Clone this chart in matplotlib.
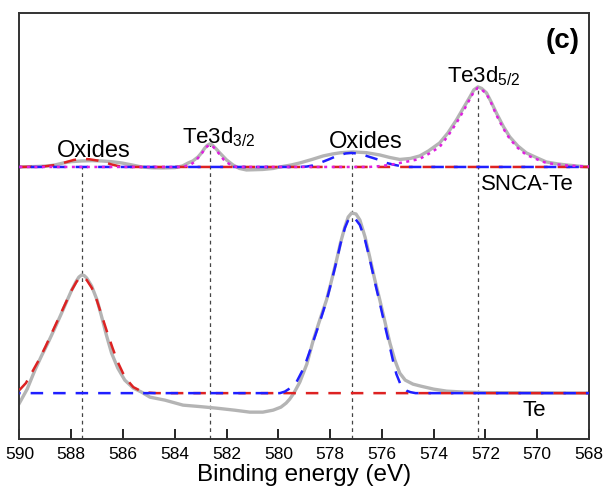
import matplotlib
matplotlib.use('Agg')
import matplotlib.pyplot as plt

plt.rcParams['font.family'] = ['Liberation Sans', 'DejaVu Sans']
plt.rcParams['mathtext.fontset'] = 'custom'
plt.rcParams['mathtext.rm'] = 'Liberation Sans'
plt.rcParams['mathtext.it'] = 'Liberation Sans'
plt.rcParams['mathtext.default'] = 'regular'

# Te (lower) spectrum, raw data
te_x = [590.0, 589.7, 589.4, 589.15, 588.9, 588.63, 588.37, 588.15, 587.98, 587.8, 587.7,
        587.6, 587.5, 587.4, 587.21, 587.0, 586.83, 586.64, 586.44, 586.2, 585.93, 585.6,
        585.28, 584.96, 584.38, 583.68, 583.0, 582.39, 581.7, 581.1, 580.6, 580.2, 579.9,
        579.7, 579.56, 579.4, 579.17, 578.9, 578.66, 578.4, 578.14, 577.95, 577.75, 577.6,
        577.43, 577.3, 577.17, 577.0, 576.85, 576.65, 576.47, 576.28, 576.08, 575.88,
        575.69, 575.5, 575.31, 575.1, 574.8, 574.5, 574.0, 573.5, 572.8, 572.0, 568.0]
te_y = [36, 50, 69, 83, 96, 111, 126, 139, 149, 158, 162,
        164, 163.5, 161, 153, 139, 123, 104, 86, 71, 59, 51,
        47, 42, 39, 34, 32.5, 31, 29, 27, 27, 29, 32,
        36, 40, 46, 57, 75, 98, 119, 139, 158, 179, 196,
        212, 222, 226, 225, 219, 202, 182, 160, 139, 117,
        96, 79, 66, 59, 55, 53, 50, 48, 47, 46.5, 46]

# Te fits
te_red_x = [590.0, 589.75, 589.53, 589.25, 589.0, 588.75, 588.5, 588.25, 588.0, 587.8,
            587.7, 587.6, 587.5, 587.4, 587.2, 587.0, 586.8, 586.6, 586.4, 586.2, 586.0,
            585.8, 585.6, 585.3, 585.0, 584.7, 568.0]
te_red_y = [49, 56, 66, 79, 92, 106, 120, 134, 148, 157,
            160.5, 162, 161.5, 159, 151, 138, 122, 106, 91, 77, 66,
            58, 52, 48, 46.5, 46, 46]
te_blue_x = [590.0, 579.94, 579.75, 579.6, 579.3, 579.0, 578.66, 578.4, 578.14, 577.95,
             577.75, 577.6, 577.43, 577.3, 577.2, 577.05, 576.85, 576.65, 576.47, 576.28,
             576.08, 575.88, 575.69, 575.55, 575.44, 575.3, 575.2, 575.05, 574.9, 574.7,
             568.0]
te_blue_y = [46, 46, 47.5, 50, 57, 72, 97, 117, 138, 157,
             178, 195, 211, 219, 222, 221, 214, 199, 180, 158,
             136, 113, 92, 76, 65, 56, 51.5, 48.5, 47, 46,
             46]

# SNCA-Te (upper) spectrum, raw data
sn_x = [590.0, 589.3, 588.9, 588.63, 588.3, 588.0, 587.6, 587.2, 586.83, 586.45, 586.05,
        585.65, 585.28, 584.9, 584.5, 584.0, 583.7, 583.48, 583.3, 583.1, 582.97, 582.85,
        582.75, 582.65, 582.55, 582.4, 582.26, 582.0, 581.75, 581.5, 581.23, 580.6, 580.2,
        579.94, 579.5, 579.17, 578.7, 578.27, 577.9, 577.6, 577.11, 576.6, 576.08, 575.7,
        575.31, 574.9, 574.54, 574.2, 573.77, 573.45, 573.12, 572.85, 572.6, 572.45,
        572.29, 572.15, 571.96, 571.78, 571.58, 571.3, 571.06, 570.75, 570.42, 570.0,
        569.65, 569.2, 568.87, 568.4, 568.0]
sn_y = [272, 272.5, 273, 274, 276, 277.3, 278, 278.3, 278, 277.3, 276,
        274, 272, 271.2, 271, 271.3, 273, 276, 278, 282, 286, 290.5,
        293.5, 295, 294, 290, 286, 279, 274, 270.5, 269, 269.5, 270.5,
        272, 274, 276, 279.5, 283, 285, 286.2, 287, 286.3, 284, 281.5,
        279.5, 280.5, 283, 288, 296, 306, 319, 331, 342, 349,
        352, 350.5, 346, 337, 326, 312, 302, 293, 286, 281,
        277, 275, 274, 272.8, 272]

# SNCA-Te fits
sn_mag_x = [590.0, 583.8, 583.6, 583.4, 583.2, 583.0, 582.85, 582.75, 582.65, 582.55,
            582.4, 582.3, 582.1, 581.9, 581.75, 581.6, 576.5, 576.0, 575.6, 575.3, 574.9,
            574.54, 574.2, 573.77, 573.45, 573.12, 572.85, 572.6, 572.45, 572.3, 572.15,
            571.96, 571.78, 571.58, 571.3, 571.06, 570.75, 570.42, 570.0, 569.65, 569.2,
            568.87, 568.4, 568.0]
sn_mag_y = [272, 272, 272.8, 274, 278, 284, 289.5, 292.5, 294, 293,
            289, 285.5, 279, 275, 273, 272, 272, 273, 274.5, 276, 278,
            280, 285, 292, 303, 316, 328, 340, 347, 351, 349.5,
            345, 336, 324, 310, 300, 291, 284, 279.5, 276, 274.5,
            273.5, 272.8, 272.5]
sn_red_x = [590.0, 589.3, 589.0, 588.6, 588.24, 587.9, 587.6, 587.3, 586.96, 586.7,
            586.44, 586.2, 586.05, 585.8, 568.0]
sn_red_y = [272, 272.3, 272.7, 274, 276.5, 279, 280, 279.7, 278.3, 276.5,
            274.5, 273, 272.2, 272, 272]
sn_blue_x = [590.0, 579.2, 578.9, 578.67, 578.3, 578.01, 577.7, 577.4, 577.17, 576.9,
             576.65, 576.47, 576.1, 575.82, 575.5, 575.3, 575.05, 568.0]
sn_blue_y = [272, 272, 272.4, 273.5, 277, 280, 283.5, 285.5, 286, 285.3,
             283.5, 282, 279, 276, 274, 273, 272, 272]

# peak positions (dashed guides) and the height where each guide starts
peak_x = [587.6, 582.65, 577.17, 572.3]
peak_top = [272, 294, 286, 351]

fig = plt.figure(figsize=(6.06, 4.94), dpi=100)
ax = fig.add_axes([0.032, 0.111, 0.94, 0.863])

for px, pt in zip(peak_x, peak_top):
    ax.plot([px, px], [0, pt], color='#444444', lw=0.9, ls=(0, (3, 3)), zorder=1)

gray = '#b4b4b4'
ax.plot(te_x, te_y, color=gray, lw=2.4, zorder=2, solid_joinstyle='round')
ax.plot(sn_x, sn_y, color=gray, lw=2.4, zorder=2, solid_joinstyle='round')

red, blue, mag = '#dd2222', '#1f1fff', '#e020e0'
ax.plot(te_red_x, te_red_y, color=red, lw=1.8, ls=(0, (5, 4)), zorder=3)
ax.plot(te_blue_x, te_blue_y, color=blue, lw=1.8, ls=(4.5, (5, 4)), zorder=3)
ax.plot(sn_red_x, sn_red_y, color=red, lw=1.8, ls=(0, (5, 4)), zorder=3)
ax.plot(sn_blue_x, sn_blue_y, color=blue, lw=1.8, ls=(4.5, (5, 4)), zorder=3)
ax.plot(sn_mag_x, sn_mag_y, color=mag, lw=1.8, ls=(0, (1.2, 1.8)), zorder=4)

ax.text(587.14, 282, 'Oxides', fontsize=17, ha='center', va='baseline')
ax.text(576.64, 291, 'Oxides', fontsize=17, ha='center', va='baseline')
ax.text(583.73, 296, 'Te3d$_{3/2}$', fontsize=16, ha='left', va='baseline')
ax.text(573.5, 356, 'Te3d$_{5/2}$', fontsize=16, ha='left', va='baseline')
ax.text(572.16, 254, 'SNCA-Te', fontsize=16, ha='left', va='center')
ax.text(570.56, 29, 'Te', fontsize=16, ha='left', va='center')
ax.text(568.35, 411, '(c)', fontsize=20, fontweight='bold', ha='right', va='top')

ax.set_xlim(590, 568)
ax.set_ylim(0, 426)
ax.set_xticks(range(590, 567, -2))
ax.set_yticks([])
ax.tick_params(axis='x', direction='in', length=7, width=1.2, labelsize=12.5, pad=6)
for s in ax.spines.values():
    s.set_linewidth(1.4)
    s.set_color('#333333')
ax.set_xlabel('Binding energy (eV)', fontsize=17.5, labelpad=1)

fig.savefig('out.png', dpi=100)
